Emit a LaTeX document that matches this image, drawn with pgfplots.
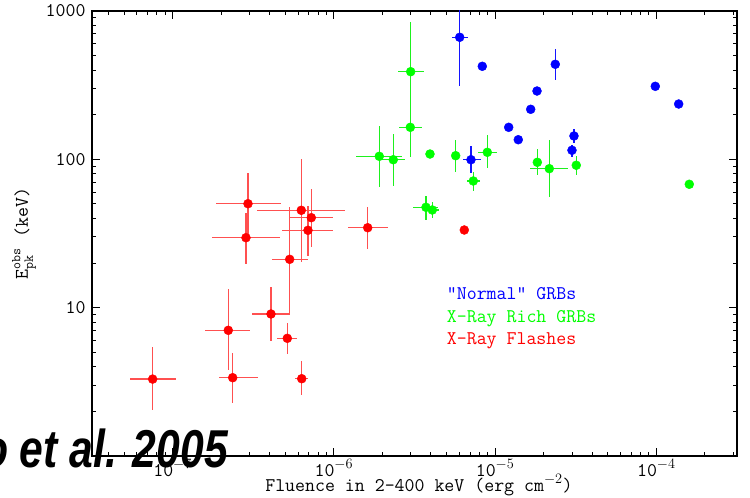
\documentclass[border=0pt]{standalone}
\usepackage{fontspec}
\usepackage{graphicx}
\usepackage{amsmath}
\usepackage{pgfplots}
\usepackage{pgfplotstable}
\pgfplotsset{compat=1.18}
\newfontfamily\citefont{Liberation Sans}
\definecolor{pblue}{RGB}{0,0,255}
\definecolor{pgreen}{RGB}{0,255,0}
\definecolor{pred}{RGB}{255,0,0}
\definecolor{ebred}{RGB}{255,80,80}
\definecolor{ebgreen}{RGB}{30,240,30}
\definecolor{ebblue}{RGB}{20,20,255}
\newcommand{\tf}{\fontsize{19.4}{22}\selectfont\ttfamily}

% X-Ray Flashes
\pgfplotstableread{
x y exm exp eym eyp
7.52e-8 3.30 2.08e-8 2.93e-8 1.26 2.16
2.214e-7 7.035 6.26e-8 8.04e-8 3.235 6.265
2.358e-7 3.372 4.18e-8 1.026e-7 1.096 1.574
2.934e-7 50.22 1.085e-7 1.786e-7 20.73 30.28
2.851e-7 29.63 1.104e-7 1.782e-7 9.93 13.83
4.075e-7 9.065 9.56e-8 1.27e-7 3.075 4.655
5.143e-7 6.214 7.24e-8 7.4e-8 1.344 1.63
6.318e-7 3.320 5.77e-8 6.22e-8 0.743 1.069
5.321e-7 21.18 1.206e-7 1.619e-7 11.93 26.32
6.281e-7 45.34 2.931e-7 5.489e-7 24.94 54.66
7.244e-7 40.42 1.899e-7 2.676e-7 14.66 22.38
6.91e-7 33.23 2.164e-7 3.01e-7 10.93 15.24
1.621e-6 34.59 3.92e-7 5.54e-7 9.62 12.91
6.44e-6 33.39 0 0 0 0
}\xrftab

% X-Ray Rich GRBs
\pgfplotstableread{
x y exm exp eym eyp
2.995e-6 389.8 4.87e-7 6.27e-7 205.7 457.2
2.979e-6 164.4 4.35e-7 5.26e-7 61.2 86.8
1.913e-6 104.8 5.48e-7 7.21e-7 40.0 63.7
2.336e-6 99.4 3.76e-7 4.25e-7 33.3 48.8
3.946e-6 108.6 1.65e-7 1.72e-7 6.5 7.0
5.694e-6 105.8 1.6e-7 1.65e-7 23.3 29.2
8.945e-6 111.5 1.082e-6 1.285e-6 24.5 34.4
7.323e-6 71.45 6.59e-7 7.32e-7 10.01 11.05
3.726e-6 47.5 6.17e-7 7.17e-7 8.51 9.1
4.077e-6 45.55 2.8e-7 4.3e-7 5.51 6.25
1.827e-5 95.5 1.02e-6 1.17e-6 17.1 21.3
2.168e-5 86.5 5.22e-6 6.75e-6 30.5 48.5
3.186e-5 91.2 1.76e-6 1.87e-6 12.8 14.6
1.6e-4 67.9 0 0 0 0
}\xrrtab

% "Normal" GRBs
\pgfplotstableread{
x y exm exp eym eyp
6.03e-6 664.9 6.52e-7 7.29e-7 351.3 535.1
8.327e-6 423.9 0 0 0 0
7.086e-6 99.4 7.39e-7 1.052e-6 18.9 24.2
2.361e-5 437.2 1.18e-6 1.39e-6 94.6 117.2
1.819e-5 288.8 0 0 0 0
1.662e-5 217.4 0 0 0 0
1.214e-5 164.4 0 0 0 0
1.392e-5 135.6 0 0 0 0
3.084e-5 143.7 1.71e-6 1.94e-6 15.4 15.7
2.997e-5 115.1 8.5e-7 8.8e-7 10.9 9.8
9.847e-5 310.7 0 0 0 0
1.375e-4 236.0 0 0 0 0
}\grbtab

\begin{document}
\begin{tikzpicture}
\useasboundingbox (0,0) rectangle (750bp,498bp);
\begin{axis}[
  at={(92bp,42bp)}, anchor=south west, scale only axis,
  width=645bp, height=445bp,
  xmode=log, ymode=log,
  xmin=3.1623e-8, xmax=3.1623e-4, ymin=1, ymax=1000,
  ytick={1,10,100,1000}, yticklabels={,10,100,1000},
  tick pos=both, tick align=inside,
  major tick length=8bp, minor tick length=4.5bp,
  every tick/.style={black, line width=1bp},
  axis line style={black, line width=1.3bp},
  log number format basis/.code 2 args={\texttt{#1}$^{\pgfmathprintnumber{#2}}$},
  xticklabel style={font=\tf},
  yticklabel style={font=\tf, xshift=-3bp},
  xlabel={Fluence in 2-400 keV (erg cm$^{-2}$)},
  xlabel style={font=\tf, at={(axis description cs:0.507,-0.0787)}, anchor=base},
  ylabel={E$^{\text{\ttfamily obs}}_{\text{\ttfamily pk}}$ (keV)},
  ylabel style={font=\tf, at={(axis description cs:-0.1054,0.5)}, anchor=center, rotate=0},
  clip=true,
]
\addplot[only marks, mark=*, mark size=4.5bp, mark options={fill=pred, draw=pred, line width=0.4bp},
  error bars/.cd, x dir=both, x explicit, y dir=both, y explicit, error mark=none,
  error bar style={ebred, line width=1.5bp}]
  table[x=x, y=y, x error minus=exm, x error plus=exp, y error minus=eym, y error plus=eyp] {\xrftab};
\addplot[only marks, mark=*, mark size=4.5bp, mark options={fill=pgreen, draw=pgreen, line width=0.4bp},
  error bars/.cd, x dir=both, x explicit, y dir=both, y explicit, error mark=none,
  error bar style={ebgreen, line width=1.4bp}]
  table[x=x, y=y, x error minus=exm, x error plus=exp, y error minus=eym, y error plus=eyp] {\xrrtab};
\addplot[only marks, mark=*, mark size=4.5bp, mark options={fill=pblue, draw=pblue, line width=0.4bp},
  error bars/.cd, x dir=both, x explicit, y dir=both, y explicit, error mark=none,
  error bar style={ebblue, line width=1.4bp}]
  table[x=x, y=y, x error minus=exm, x error plus=exp, y error minus=eym, y error plus=eyp] {\grbtab};
\end{axis}
\node[anchor=base west, inner sep=0, text=pblue, font=\tf] at (446.7bp,198.7bp) {"Normal" GRBs};
\node[anchor=base west, inner sep=0, text=pgreen, font=\tf] at (446.7bp,175.7bp) {X-Ray Rich GRBs};
\node[anchor=base west, inner sep=0, text=pred, font=\tf] at (446.7bp,153bp) {X-Ray Flashes};
\node[anchor=base east, inner sep=0] at (228bp,31bp) {\scalebox{0.8}[1]{\fontsize{53.5}{60}\selectfont\citefont\bfseries\itshape Sakamoto et al. 2005}};
\end{tikzpicture}
\end{document}
